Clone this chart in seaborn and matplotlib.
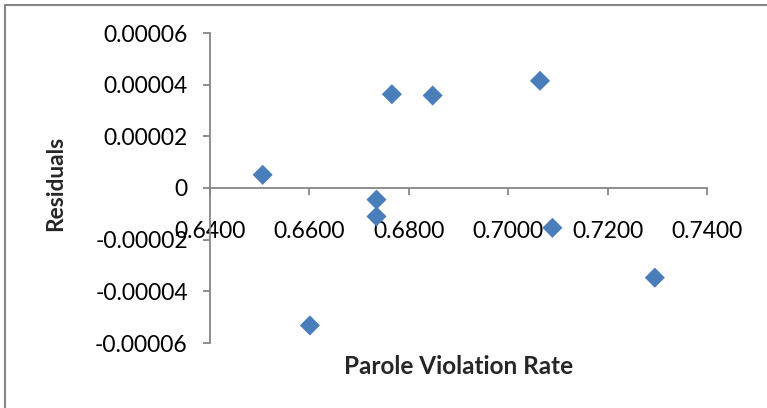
import matplotlib
matplotlib.use("Agg")
import matplotlib.pyplot as plt
import seaborn as sns
import pandas as pd
from matplotlib.lines import Line2D

# ---- data ----
violation_rate = [0.6506, 0.6601, 0.6735, 0.6735, 0.6766, 0.6848, 0.7064, 0.7089, 0.7295]
residuals = [5.1e-6, -5.32e-5, -4.5e-6, -1.10e-5, 3.63e-5, 3.58e-5, 4.15e-5, -1.54e-5, -3.47e-5]
x_ticks = [0.64, 0.66, 0.68, 0.70, 0.72, 0.74]
x_tick_labels = ["0.6400", "0.6600", "0.6800", "0.7000", "0.7200", "0.7400"]
y_ticks = [-6e-5, -4e-5, -2e-5, 0, 2e-5, 4e-5, 6e-5]
y_tick_labels = ["-0.00006", "-0.00004", "-0.00002", "0", "0.00002", "0.00004", "0.00006"]
x_label = "Parole Violation Rate"
y_label = "Residuals"

df = pd.DataFrame({"rate": violation_rate, "resid": residuals})

sns.set_theme(style="white")
plt.rcParams["font.family"] = ["Lato", "DejaVu Sans"]

W, H, DPI = 767, 408, 100
fig = plt.figure(figsize=(W / DPI, H / DPI), dpi=DPI)
ax = fig.add_axes([210 / W, 1 - 343 / H, (707 - 210) / W, (343 - 33) / H])

sns.scatterplot(data=df, x="rate", y="resid", ax=ax, marker="D", s=105,
                color="#4A7EBB", edgecolor="none", linewidth=0, zorder=3)

ax.set_xlim(0.64, 0.74)
ax.set_ylim(-6e-5, 6e-5)
ax.set_xticks(x_ticks)
ax.set_xticklabels(x_tick_labels)
ax.set_yticks(y_ticks)
ax.set_yticklabels(y_tick_labels)

axis_col = "#868686"
for s in ["top", "right"]:
    ax.spines[s].set_visible(False)
ax.spines["bottom"].set_position(("data", 0))
ax.spines["bottom"].set_color(axis_col)
ax.spines["left"].set_color(axis_col)
ax.spines["bottom"].set_linewidth(1.3)
ax.spines["left"].set_linewidth(1.3)

ax.tick_params(axis="x", direction="out", length=5, width=1.3, color=axis_col,
               labelsize=16.5, pad=19, labelcolor="black", bottom=True)
ax.tick_params(axis="y", direction="out", length=5, width=1.3, color=axis_col,
               labelsize=16.5, pad=11, labelcolor="black", left=True)

ax.set_xlabel("")
ax.set_ylabel("")
fig.text(459 / W, 1 - 366 / H, x_label, ha="center", va="center",
         fontsize=17.5, fontweight="bold")
fig.text(56 / W, 1 - 183 / H, y_label, ha="center", va="center",
         rotation=90, fontsize=16.3, fontweight="bold")

# chart frame (left and top edges visible)
fig.add_artist(Line2D([5 / W, 5 / W], [0, 1 - 5 / H], transform=fig.transFigure,
                      color=axis_col, linewidth=1.5))
fig.add_artist(Line2D([5 / W, 1], [1 - 5 / H, 1 - 5 / H], transform=fig.transFigure,
                      color=axis_col, linewidth=1.5))

fig.savefig("out.png", dpi=DPI)
